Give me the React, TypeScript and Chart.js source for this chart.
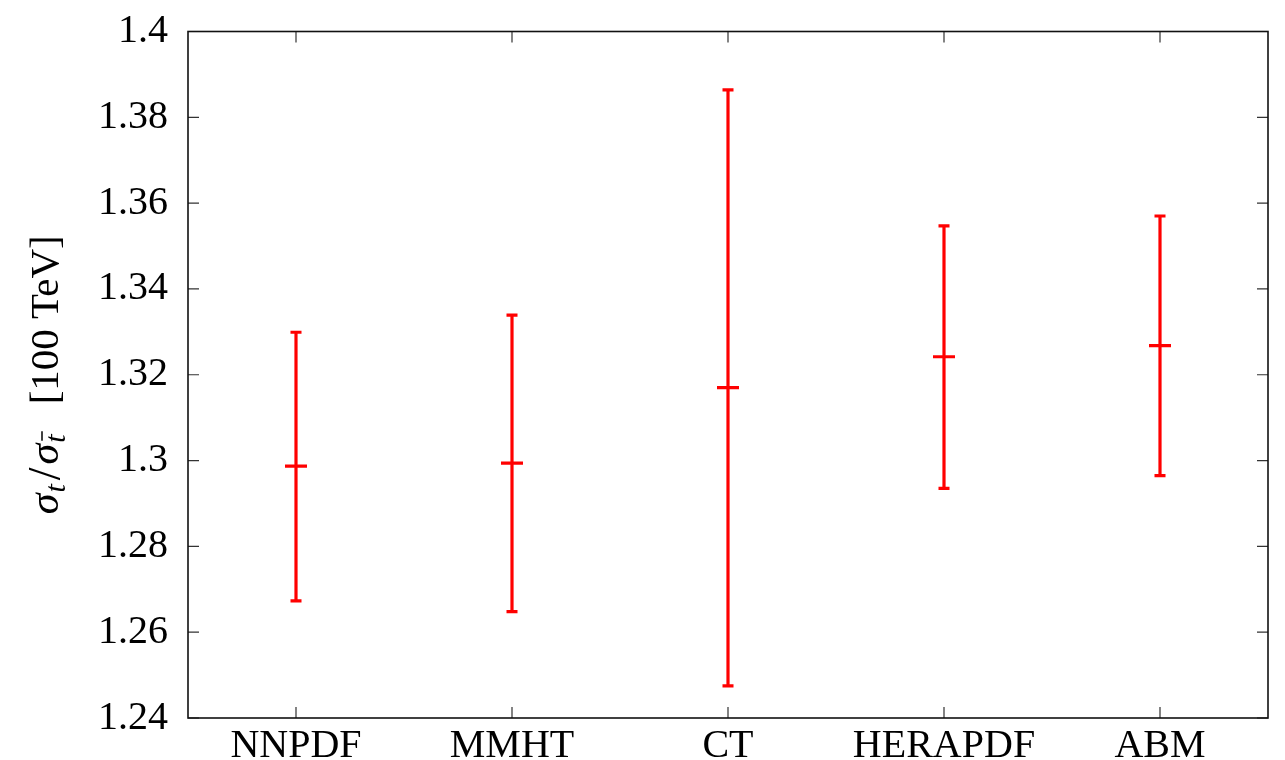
import React, { useEffect, useRef } from "react";
import { Chart, registerables } from "chart.js";

Chart.register(...registerables);

const categories = ["NNPDF", "MMHT", "CT", "HERAPDF", "ABM"];
const central = [1.2987, 1.2994, 1.317, 1.3242, 1.3268];
const upper = [1.3299, 1.3339, 1.3864, 1.3547, 1.357];
const lower = [1.2673, 1.2648, 1.2475, 1.2935, 1.2965];
const yMin = 1.24;
const yMax = 1.4;
const yStep = 0.02;

const FONT = "'Liberation Serif', 'Times New Roman', serif";
const RED = "#ff0000";

const framePlugin = {
  id: "frame",
  afterDraw(chart: any) {
    const { ctx, chartArea, scales } = chart;
    const { left, right, top, bottom } = chartArea;
    ctx.save();
    // tick marks (inside)
    ctx.strokeStyle = "#333";
    ctx.lineWidth = 1.2;
    const tl = 11;
    scales.y.ticks.forEach((t: any) => {
      const py = scales.y.getPixelForValue(t.value);
      ctx.beginPath();
      ctx.moveTo(left, py);
      ctx.lineTo(left + tl, py);
      ctx.moveTo(right, py);
      ctx.lineTo(right - tl, py);
      ctx.stroke();
    });
    scales.x.ticks.forEach((t: any) => {
      const px = scales.x.getPixelForValue(t.value);
      ctx.beginPath();
      ctx.moveTo(px, bottom);
      ctx.lineTo(px, bottom - tl);
      ctx.moveTo(px, top);
      ctx.lineTo(px, top + tl);
      ctx.stroke();
    });
    // frame
    ctx.strokeStyle = "#111";
    ctx.lineWidth = 1.6;
    ctx.strokeRect(left, top, right - left, bottom - top);

    // y axis title (rotated) with subscripts
    const cy = (top + bottom) / 2;
    ctx.translate(58, cy);
    ctx.rotate(-Math.PI / 2);
    ctx.fillStyle = "#000";
    ctx.textBaseline = "alphabetic";
    ctx.textAlign = "left";
    const big = 42;
    const sub = 30;
    const pieces: { t: string; f: string; dy: number; bar?: boolean; gap?: number }[] = [
      { t: "σ", f: `italic ${big}px ${FONT}`, dy: 0 },
      { t: "t", f: `italic ${sub}px ${FONT}`, dy: 7, gap: 1 },
      { t: "/", f: `${big + 4}px ${FONT}`, dy: 2, gap: 4 },
      { t: "σ", f: `italic ${big}px ${FONT}`, dy: 0, gap: 3 },
      { t: "t", f: `italic ${sub}px ${FONT}`, dy: 7, bar: true, gap: 1 },
      { t: "[100 TeV]", f: `41px ${FONT}`, dy: 0, gap: 30 },
    ];
    let total = 0;
    const widths = pieces.map((p) => {
      ctx.font = p.f;
      const w = ctx.measureText(p.t).width;
      total += w + (p.gap || 0);
      return w;
    });
    let x = -total / 2;
    pieces.forEach((p, i) => {
      x += p.gap || 0;
      ctx.font = p.f;
      ctx.fillText(p.t, x, p.dy);
      if (p.bar) {
        ctx.strokeStyle = "#000";
        ctx.lineWidth = 1.5;
        ctx.beginPath();
        ctx.moveTo(x + 2, p.dy - 23);
        ctx.lineTo(x + widths[i] + 3, p.dy - 23);
        ctx.stroke();
      }
      x += widths[i];
    });
    ctx.restore();
  },
};

export default function App() {
  const ref = useRef<HTMLCanvasElement>(null);
  useEffect(() => {
    if (!ref.current) return;
    const barData: any[] = [];
    categories.forEach((_, i) => {
      barData.push({ x: i + 1, y: lower[i] });
      barData.push({ x: i + 1, y: upper[i] });
      barData.push({ x: i + 1, y: null });
    });
    const centerData = categories.map((_, i) => ({ x: i + 1, y: central[i] }));
    const chart = new Chart(ref.current, {
      type: "scatter",
      data: {
        datasets: [
          {
            data: barData,
            showLine: true,
            spanGaps: false,
            borderColor: RED,
            borderWidth: 3.2,
            pointStyle: "line",
            pointRadius: 5.5,
            pointBorderWidth: 3.2,
            pointBorderColor: RED,
            pointBackgroundColor: RED,
          },
          {
            data: centerData,
            showLine: false,
            pointStyle: "line",
            pointRadius: 11,
            pointBorderWidth: 3.2,
            pointBorderColor: RED,
            pointBackgroundColor: RED,
          },
        ],
      },
      options: {
        responsive: false,
        animation: false,
        layout: { padding: { top: 31.5, right: 17, left: 0, bottom: 0 } },
        plugins: { legend: { display: false }, tooltip: { enabled: false } },
        scales: {
          x: {
            type: "linear",
            position: "bottom",
            min: 0.5,
            max: 5.5,
            afterBuildTicks: (scale: any) => {
              scale.ticks = categories.map((_, i) => ({ value: i + 1 }));
            },
            afterFit: (scale: any) => {
              scale.height = 42;
              scale.paddingLeft = 0;
              scale.paddingRight = 0;
              scale.paddingTop = 0;
              scale.paddingBottom = 0;
            },
            ticks: {
              autoSkip: false,
              maxRotation: 0,
              padding: 4,
              color: "#000",
              font: { family: FONT, size: 40 },
              callback: (v: any) => categories[Math.round(Number(v)) - 1] ?? "",
            },
            grid: { display: false, drawTicks: false },
            border: { display: false },
          },
          y: {
            type: "linear",
            position: "left",
            min: yMin,
            max: yMax,
            afterBuildTicks: (scale: any) => {
              const t: any[] = [];
              const n = Math.round((yMax - yMin) / yStep);
              for (let i = 0; i <= n; i++) t.push({ value: Number((yMin + i * yStep).toFixed(2)) });
              scale.ticks = t;
            },
            afterFit: (scale: any) => {
              scale.width = 188;
              scale.paddingTop = 0;
              scale.paddingBottom = 0;
              scale.paddingLeft = 0;
              scale.paddingRight = 0;
            },
            ticks: {
              padding: 20,
              color: "#000",
              font: { family: FONT, size: 40 },
              callback: (v: any) => String(Number(Number(v).toFixed(2))),
            },
            grid: { display: false, drawTicks: false },
            border: { display: false },
          },
        },
      },
      plugins: [framePlugin],
    });
    return () => chart.destroy();
  }, []);
  return (
    <div style={{ position: "absolute", left: 0, top: 0, width: 1285, height: 760, background: "#fff" }}>
      <canvas ref={ref} width={1285} height={760} />
    </div>
  );
}
